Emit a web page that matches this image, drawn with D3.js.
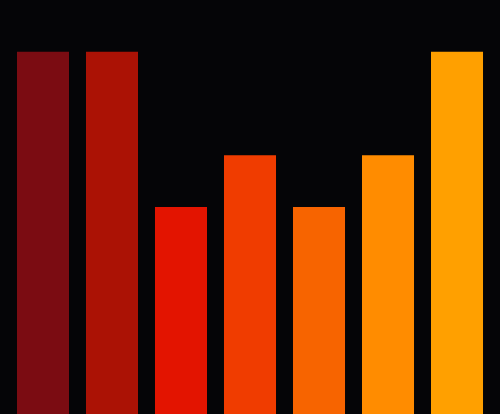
<!DOCTYPE html>
<html>
<head>
<meta charset="utf-8">
<script src="https://cdn.jsdelivr.net/npm/d3@7"></script>
<style>
  html, body { margin: 0; padding: 0; background: #050507; }
  svg { display: block; }
</style>
</head>
<body>
<svg width="500" height="414"></svg>
<script>
  const categories = ['A', 'B', 'C', 'D', 'E', 'F', 'G'];
  const values = [7, 7, 4, 5, 4, 5, 7];
  const colors = ['#7b0c12', '#ab1205', '#e31400', '#f03c00', '#f76400', '#ff8c00', '#ffa000'];

  const svg = d3.select('svg');
  const width = +svg.attr('width');
  const height = +svg.attr('height');

  svg.append('rect')
      .attr('width', width)
      .attr('height', height)
      .attr('fill', '#050507');

  const x = d3.scaleBand()
      .domain(categories)
      .range([0, width])
      .padding(0.246);

  const y = d3.scaleLinear()
      .domain([0, 8])
      .range([height, 0]);

  const color = d3.scaleOrdinal()
      .domain(categories)
      .range(colors);

  svg.append('g')
    .selectAll('rect')
    .data(categories)
    .enter().append('rect')
      .attr('x', d => x(d))
      .attr('y', (d, i) => y(values[i]))
      .attr('width', x.bandwidth())
      .attr('height', (d, i) => y(0) - y(values[i]))
      .attr('fill', d => color(d));
</script>
</body>
</html>
